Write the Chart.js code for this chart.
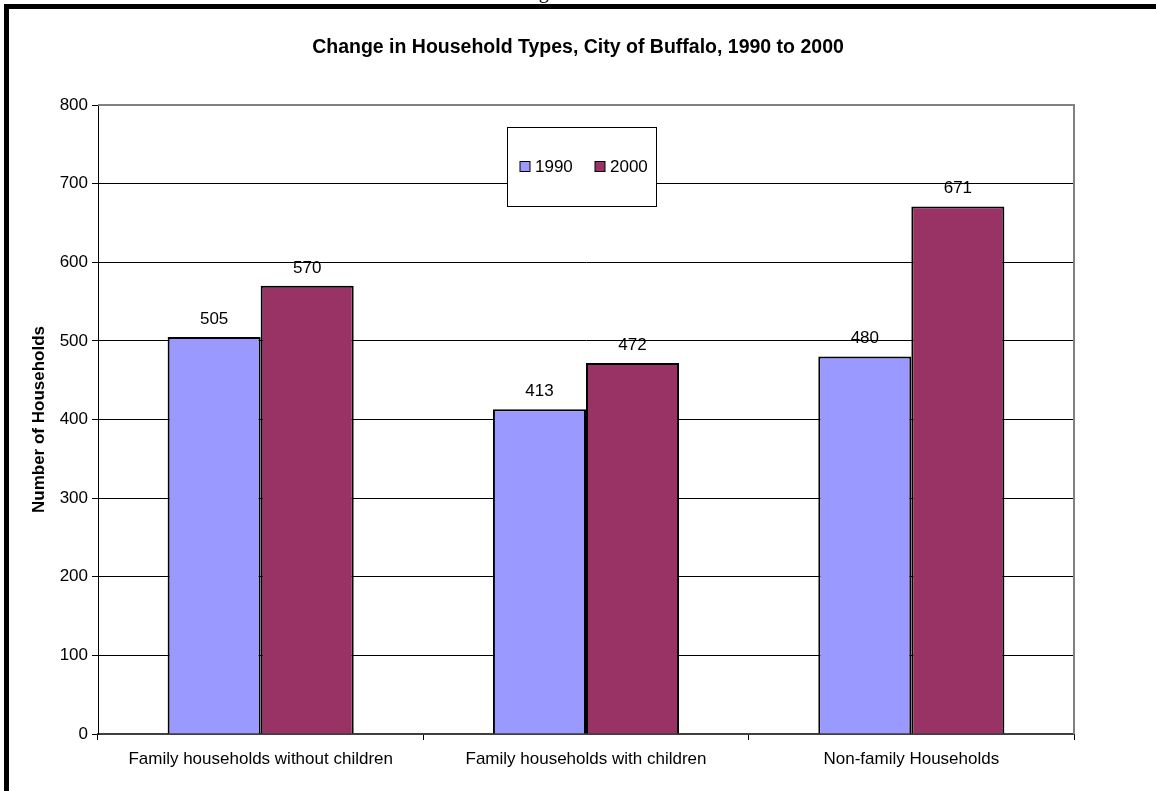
<!DOCTYPE html>
<html>
<head>
<meta charset="utf-8">
<script src="https://cdn.jsdelivr.net/npm/chart.js@4.4.0/dist/chart.umd.min.js"></script>
<style>
  html, body { margin: 0; padding: 0; background: #fff; }
  #quadro { position: relative; width: 1156px; height: 791px; overflow: hidden; }
  #figura { position: absolute; left: 522px; top: -19px; font: 20px "Liberation Serif", "Times New Roman", serif; line-height: 20px; color: #000; }
  .borda { position: absolute; background: #000; z-index: 2; }
  canvas { position: absolute; left: 0; top: 0; }
</style>
</head>
<body>
<div id="quadro">
  <div id="figura">Figure</div>
  <div class="borda" style="left:4px; top:4px; width:1152px; height:5px;"></div>
  <div class="borda" style="left:4px; top:4px; width:5px; height:787px;"></div>
  <canvas id="grafico" width="1156" height="791"></canvas>
</div>
<script>
// dados do gráfico
const categorias = ['Family households without children', 'Family households with children', 'Non-family Households'];
const series = ['1990', '2000'];
const valores1990 = [505, 413, 480];
const valores2000 = [570, 472, 671];
const coresSeries = ['#9999FF', '#993366'];
const eixoY = { min: 0, max: 800, passo: 100 };

const familia = '"Liberation Sans", Arial, sans-serif';

// números em cima de cada coluna
const rotulosValor = {
  id: 'rotulosValor',
  afterDatasetsDraw(chart) {
    const c = chart.ctx;
    c.save();
    c.font = '17px ' + familia;
    c.fillStyle = '#000';
    c.textAlign = 'center';
    c.textBaseline = 'middle';
    chart.data.datasets.forEach(function (ds, i) {
      chart.getDatasetMeta(i).data.forEach(function (barra, j) {
        c.fillText(String(ds.data[j]), barra.x, barra.y - 18);
      });
    });
    c.restore();
  }
};

// moldura cinza do lado de cima e da direita da área do gráfico
const moldura = {
  id: 'moldura',
  afterDatasetsDraw(chart) {
    const a = chart.chartArea;
    const c = chart.ctx;
    c.save();
    c.strokeStyle = '#808080';
    c.lineWidth = 2;
    c.beginPath();
    c.moveTo(a.left, a.top);
    c.lineTo(a.right, a.top);
    c.lineTo(a.right, a.bottom);
    c.stroke();
    c.restore();
  }
};

// legenda numa caixa dentro da área do gráfico
const legendaCaixa = {
  id: 'legendaCaixa',
  afterDraw(chart) {
    const a = chart.chartArea;
    const c = chart.ctx;
    const x = a.left + 409.5, y = a.top + 22.5;
    c.save();
    c.fillStyle = '#fff';
    c.fillRect(x, y, 149, 79);
    c.strokeStyle = '#000';
    c.lineWidth = 1;
    c.strokeRect(x, y, 149, 79);
    c.font = '17px ' + familia;
    c.textBaseline = 'middle';
    c.textAlign = 'left';
    chart.data.datasets.forEach(function (ds, i) {
      const qx = x + 12.5 + i * 75;
      c.fillStyle = ds.backgroundColor;
      c.fillRect(qx, y + 34, 10, 10);
      c.strokeRect(qx, y + 34, 10, 10);
      c.fillStyle = '#000';
      c.fillText(ds.label, qx + 15, y + 40);
    });
    c.restore();
  }
};

const grafico = new Chart(document.getElementById('grafico'), {
  type: 'bar',
  data: {
    labels: categorias,
    datasets: [
      { label: series[0], data: valores1990, backgroundColor: coresSeries[0], borderColor: '#000', borderWidth: 2,
        categoryPercentage: 0.572, barPercentage: 1 },
      { label: series[1], data: valores2000, backgroundColor: coresSeries[1], borderColor: '#000', borderWidth: 2,
        categoryPercentage: 0.572, barPercentage: 1 }
    ]
  },
  options: {
    responsive: false,
    animation: false,
    layout: { padding: 0 },
    plugins: {
      legend: { display: false },
      tooltip: { enabled: false },
      title: {
        display: true,
        text: 'Change in Household Types, City of Buffalo, 1990 to 2000',
        color: '#000',
        font: { family: familia, size: 19.5, weight: 'bold' },
        padding: { top: 35.7, bottom: 45.9 }
      }
    },
    scales: {
      x: {
        afterFit: function (scale) { scale.height = 57; },
        grid: { drawOnChartArea: false, tickLength: 6, tickColor: '#000', offset: true },
        border: { color: '#404040', width: 2 },
        ticks: { color: '#000', font: { family: familia, size: 17 }, padding: 9, maxRotation: 0 }
      },
      y: {
        min: eixoY.min,
        max: eixoY.max,
        afterFit: function (scale) { scale.width = 98; },
        grid: {
          color: function (ctx) {
            const v = ctx.tick ? ctx.tick.value : 0;
            return (v === eixoY.max || v === eixoY.min) ? 'rgba(0,0,0,0)' : '#000';
          },
          tickLength: 6,
          tickColor: '#000'
        },
        border: { color: '#000', width: 1 },
        ticks: { stepSize: eixoY.passo, color: '#000', font: { family: familia, size: 17 }, padding: 4 },
        title: {
          display: true,
          text: 'Number of Households',
          color: '#000',
          font: { family: familia, size: 17, weight: 'bold' },
          padding: { top: 29, bottom: 0 }
        }
      },
      // eixo vazio à direita só para reservar a margem
      margemDireita: {
        type: 'linear',
        position: 'right',
        afterFit: function (scale) { scale.width = 82; },
        grid: { display: false, drawTicks: false },
        border: { display: false },
        ticks: { display: false }
      }
    }
  },
  plugins: [rotulosValor, moldura, legendaCaixa]
});
</script>
</body>
</html>
